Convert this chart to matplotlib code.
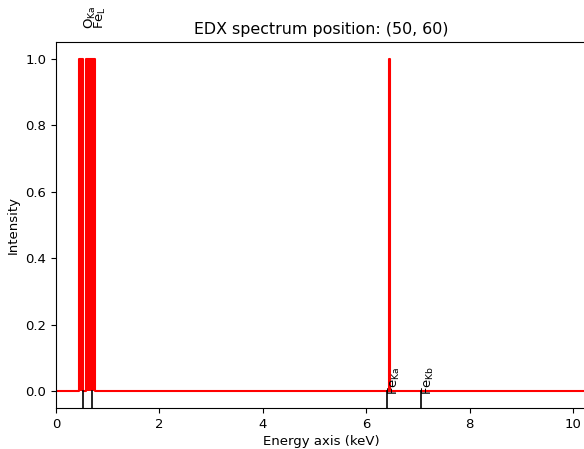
import matplotlib
matplotlib.use("Agg")
import matplotlib.pyplot as plt

plt.rcParams["font.size"] = 9.5

# spectrum outline (energy in keV, intensity)
energy = [0.0, 0.45, 0.45, 0.52, 0.52, 0.58, 0.58, 0.75, 0.75,
          6.44, 6.44, 6.45, 6.45, 10.25]
intensity = [0, 0, 1, 1, 0, 0, 1, 1, 0,
             0, 1, 1, 0, 0]

# X-ray line markers
line_names = [r"$\mathrm{O}_{\mathrm{Ka}}$", r"$\mathrm{Fe}_{\mathrm{L}}$",
              r"$\mathrm{Fe}_{\mathrm{Ka}}$", r"$\mathrm{Fe}_{\mathrm{Kb}}$"]
line_energy = [0.525, 0.705, 6.404, 7.058]
label_y = [1.09, 1.09, -0.01, -0.01]

fig = plt.figure(figsize=(5.84, 4.49), dpi=100)
ax = fig.add_axes([0.0959, 0.0913, 0.9075, 0.815])

ax.fill_between(energy, intensity, 0, color="red", lw=0)
ax.plot(energy, intensity, color="red", lw=1.5)

for name, e, y in zip(line_names, line_energy, label_y):
    ax.plot([e, e], [-0.05, 0.0], color="black", lw=1.2)
    ax.text(e, y, name, rotation=90, ha="left", va="bottom",
            fontsize=9.5, clip_on=False)

ax.set_xlim(0, 10.25)
ax.set_ylim(-0.05, 1.05)
ax.set_xticks([0, 2, 4, 6, 8, 10])
ax.tick_params(labelsize=9.5)
ax.set_title("EDX spectrum position: (50, 60)")
ax.set_xlabel("Energy axis (keV)", labelpad=3)
ax.set_ylabel("Intensity")

fig.savefig("out.png", dpi=100)
